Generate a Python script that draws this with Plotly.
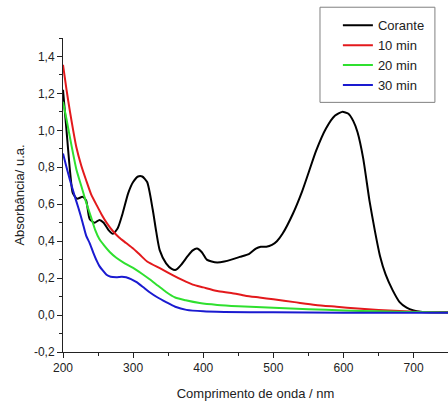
import plotly.graph_objects as go

# Corante (dye) spectrum
wl_corante = [200, 205, 210, 214, 220, 228, 233, 238, 245, 252, 258, 265, 271, 278, 285,
              293, 300, 307, 313, 320, 328, 333, 338, 347, 355, 361, 368, 378, 385, 391,
              398, 405, 412, 420, 430, 440, 452, 465, 475, 482, 490, 498, 505, 513, 528,
              541, 551, 561, 575, 588, 598, 607, 614, 620, 628, 637, 645, 652, 660, 670,
              680, 690, 700, 710, 730, 750]
abs_corante = [1.22, 1.00, 0.78, 0.66, 0.63, 0.64, 0.62, 0.52, 0.50, 0.515, 0.50, 0.46, 0.44, 0.47, 0.55,
               0.66, 0.72, 0.75, 0.75, 0.72, 0.57, 0.45, 0.35, 0.28, 0.25, 0.245, 0.27, 0.32, 0.35, 0.36,
               0.34, 0.30, 0.29, 0.285, 0.29, 0.30, 0.315, 0.33, 0.36, 0.37, 0.37, 0.38, 0.40, 0.44, 0.55,
               0.67, 0.78, 0.89, 1.01, 1.08, 1.10, 1.09, 1.05, 0.99, 0.85, 0.62, 0.45, 0.32, 0.22, 0.135,
               0.07, 0.04, 0.025, 0.018, 0.015, 0.015]

wl_10 = [200, 205, 210, 219, 226, 233, 240, 248, 255, 263, 271, 280, 290, 300, 310, 320,
         340, 357, 370, 385, 400, 420, 440, 460, 480, 500, 530, 560, 590, 620, 650, 680, 710, 750]
abs_10 = [1.355, 1.22, 1.10, 0.91, 0.81, 0.73, 0.655, 0.595, 0.545, 0.495, 0.455, 0.42, 0.39, 0.36, 0.325, 0.29,
          0.25, 0.215, 0.19, 0.165, 0.15, 0.13, 0.12, 0.105, 0.095, 0.085, 0.07, 0.055, 0.045, 0.035, 0.028, 0.022, 0.017, 0.014]

wl_20 = [200, 205, 212, 219, 226, 233, 240, 246, 252, 258, 267, 276, 288, 300, 312, 323,
         335, 347, 360, 375, 395, 420, 450, 500, 550, 600, 650, 700, 750]
abs_20 = [1.155, 1.06, 0.92, 0.79, 0.70, 0.61, 0.53, 0.46, 0.41, 0.38, 0.34, 0.31, 0.28, 0.255, 0.225, 0.195,
          0.16, 0.125, 0.095, 0.08, 0.065, 0.055, 0.048, 0.04, 0.032, 0.025, 0.02, 0.016, 0.014]

wl_30 = [200, 205, 210, 217, 222, 228, 233, 238, 243, 248, 252, 257, 262, 268, 276, 284, 290,
         297, 305, 314, 323, 335, 347, 360, 376, 400, 430, 500, 600, 700, 750]
abs_30 = [0.875, 0.80, 0.73, 0.64, 0.58, 0.50, 0.43, 0.39, 0.34, 0.295, 0.265, 0.24, 0.218, 0.207, 0.205, 0.207, 0.205,
          0.195, 0.178, 0.152, 0.125, 0.095, 0.07, 0.045, 0.028, 0.02, 0.017, 0.015, 0.013, 0.012, 0.012]

y_tickvals = [-0.2, 0.0, 0.2, 0.4, 0.6, 0.8, 1.0, 1.2, 1.4]
y_ticktext = ['-0,2', '0,0', '0,2', '0,4', '0,6', '0,8', '1,0', '1,2', '1,4']

series = [
    ('Corante', wl_corante, abs_corante, '#000000'),
    ('10 min', wl_10, abs_10, '#e3191c'),
    ('20 min', wl_20, abs_20, '#2fe02f'),
    ('30 min', wl_30, abs_30, '#1a1ad0'),
]

text_color = '#222222'
font_family = 'Liberation Sans, Arial, sans-serif'

fig = go.Figure()
for name, x, y, color in series:
    fig.add_trace(go.Scatter(
        x=x, y=y, name=name, mode='lines',
        line=dict(color=color, width=2, shape='spline', smoothing=0.6),
    ))

fig.update_layout(
    width=448,
    height=408,
    margin=dict(l=63, r=0, t=38, b=56),
    plot_bgcolor='white',
    paper_bgcolor='white',
    font=dict(family=font_family, size=12, color=text_color),
    legend=dict(
        x=0.714, y=1.088, xanchor='left', yanchor='top',
        bgcolor='rgba(0,0,0,0)', borderwidth=0,
        font=dict(size=13, color=text_color),
        tracegroupgap=0,
    ),
    # legend frame, wider than plotly's own box
    shapes=[dict(
        type='rect', xref='paper', yref='paper',
        x0=0.6675, x1=0.966, y0=0.795, y1=1.098,
        line=dict(color='#808080', width=1), fillcolor='rgba(0,0,0,0)',
        layer='above',
    )],
)

fig.update_xaxes(
    range=[200, 749],
    dtick=100, tick0=200,
    showgrid=False, zeroline=False,
    showline=True, linecolor='#222222', linewidth=1,
    ticks='outside', ticklen=5, tickcolor='#222222',
    minor=dict(ticks='outside', dtick=50, ticklen=3, tickcolor='#222222'),
    tickfont=dict(size=12),
    title=dict(text='Comprimento de onda / nm', font=dict(size=13), standoff=14),
)

fig.update_yaxes(
    range=[-0.2, 1.5],
    tickvals=y_tickvals, ticktext=y_ticktext,
    showgrid=False, zeroline=False,
    showline=True, linecolor='#222222', linewidth=1,
    ticks='outside', ticklen=5, tickcolor='#222222',
    minor=dict(ticks='outside', dtick=0.1, ticklen=3, tickcolor='#222222'),
    tickfont=dict(size=12),
    title=dict(text='Absorbância/ u.a.', font=dict(size=13), standoff=6),
)

# let the figure fill the window exactly (no page margin, no scrollbars)
fig.write_html(
    'out.html',
    config={'displayModeBar': False},
    post_script="document.body.style.margin='0';document.body.style.overflow='hidden';",
)
